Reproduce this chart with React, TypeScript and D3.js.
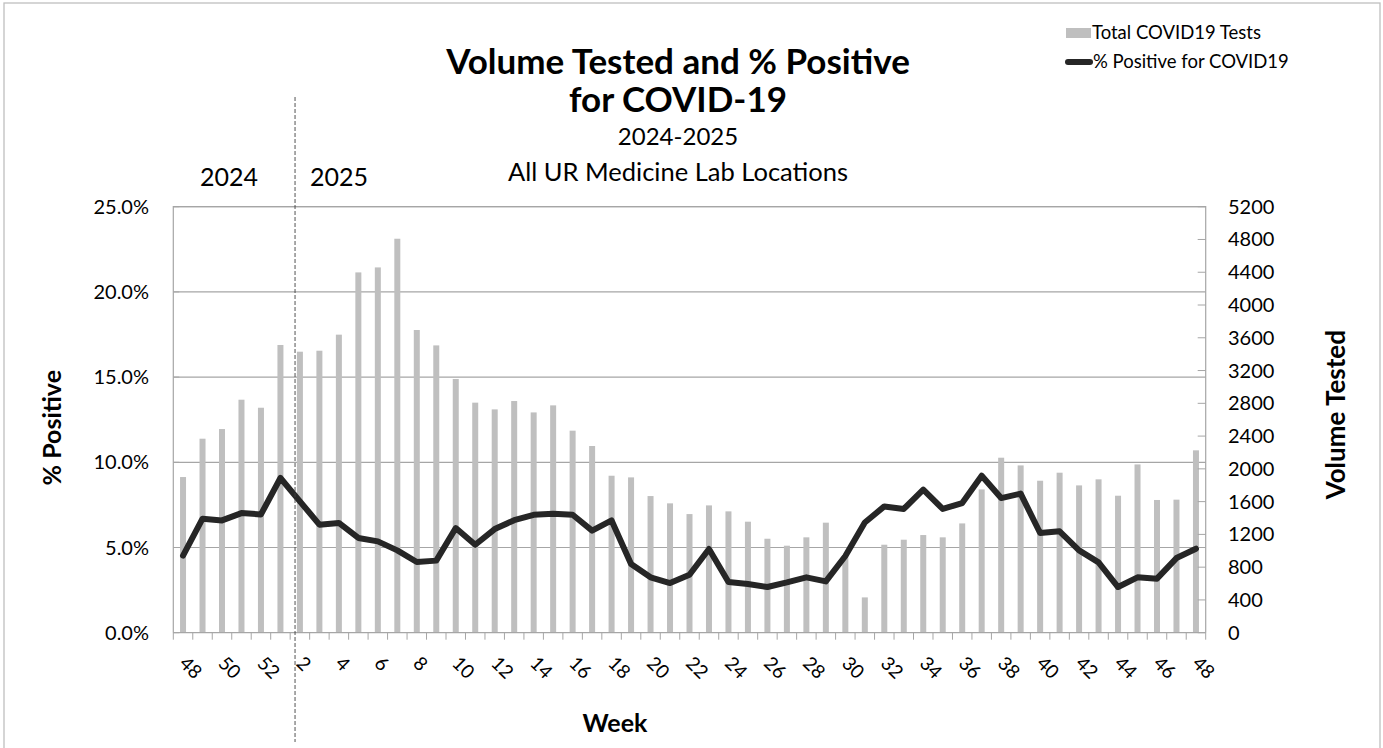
import React, { useEffect, useRef } from "react";
import * as d3 from "d3";

const weeks = [
  "48", "49", "50", "51", "52", "1", "2", "3", "4", "5", "6", "7", "8", "9", "10",
  "11", "12", "13", "14", "15", "16", "17", "18", "19", "20", "21", "22", "23",
  "24", "25", "26", "27", "28", "29", "30", "31", "32", "33", "34", "35", "36",
  "37", "38", "39", "40", "41", "42", "43", "44", "45", "46", "47", "48",
];

const totalTests = [
  1900, 2368, 2486, 2844, 2746, 3512, 3430, 3442, 3638, 4398, 4459, 4809, 3695,
  3507, 3097, 2808, 2726, 2828, 2689, 2775, 2466, 2279, 1916, 1896, 1668, 1579,
  1448, 1554, 1481, 1355, 1147, 1062, 1164, 1343, 931, 431, 1074, 1135, 1192,
  1164, 1334, 1749, 2136, 2042, 1855, 1953, 1798, 1872, 1672, 2054, 1620, 1624,
  2226,
];

const pctPositive = [
  4.52, 6.69, 6.59, 7.02, 6.94, 9.08, 7.71, 6.34, 6.44, 5.56, 5.36, 4.83, 4.15,
  4.23, 6.14, 5.16, 6.08, 6.6, 6.92, 6.98, 6.92, 5.99, 6.59, 4.03, 3.25, 2.91,
  3.4, 4.91, 2.97, 2.86, 2.68, 2.95, 3.25, 3.01, 4.5, 6.47, 7.41, 7.26, 8.39,
  7.26, 7.61, 9.21, 7.9, 8.16, 5.85, 5.95, 4.83, 4.13, 2.68, 3.25, 3.17, 4.38,
  4.93,
];

const pctTicks = [0, 5, 10, 15, 20, 25];
const volTicks = d3.range(0, 5201, 400);

const W = 1383,
  H = 748;
const margin = { top: 206.7, right: 177.3, bottom: 115.3, left: 173.3 };
const font = "Lato, 'Open Sans', sans-serif";

const barColor = "#bfbfbf";
const lineColor = "#262626";
const gridColor = "#a6a6a6";

export default function App(): JSX.Element {
  const ref = useRef<SVGSVGElement>(null);

  useEffect(() => {
    document.body.style.margin = "0";
    if (!ref.current) return;
    const svg = d3.select(ref.current);
    svg.selectAll("*").remove();

    const x0 = margin.left,
      x1 = W - margin.right,
      y0 = H - margin.bottom,
      y1 = margin.top;

    const idx = weeks.map((_, i) => i);
    const x = d3.scaleBand<number>().domain(idx).range([x0, x1]);
    const yPct = d3.scaleLinear().domain([0, 25]).range([y0, y1]);
    const yVol = d3.scaleLinear().domain([0, 5200]).range([y0, y1]);
    const cx = (i: number) => (x(i) as number) + x.bandwidth() / 2;

    // outer chart border
    svg
      .append("rect")
      .attr("x", 4)
      .attr("y", 3)
      .attr("width", 1376)
      .attr("height", H + 10)
      .attr("fill", "#fff")
      .attr("stroke", "#bfbfbf")
      .attr("stroke-width", 1.3);

    // gridlines
    svg
      .append("g")
      .selectAll("line")
      .data(pctTicks.filter((d) => d > 0))
      .join("line")
      .attr("x1", x0)
      .attr("x2", x1)
      .attr("y1", (d) => yPct(d))
      .attr("y2", (d) => yPct(d))
      .attr("stroke", gridColor)
      .attr("stroke-width", 1.2);

    // bars
    const bw = 6;
    svg
      .append("g")
      .selectAll("rect")
      .data(totalTests)
      .join("rect")
      .attr("x", (_, i) => cx(i) - bw / 2)
      .attr("y", (d) => yVol(d))
      .attr("width", bw)
      .attr("height", (d) => y0 - yVol(d))
      .attr("fill", barColor);

    // plot frame
    svg
      .append("path")
      .attr("d", `M${x0},${y0}V${y1}H${x1}V${y0}`)
      .attr("fill", "none")
      .attr("stroke", gridColor)
      .attr("stroke-width", 1.2);

    // left axis
    const gl = svg.append("g").attr("font-family", font);
    pctTicks.forEach((t) => {
      gl.append("line")
        .attr("x1", x0)
        .attr("x2", x0 + 6)
        .attr("y1", yPct(t))
        .attr("y2", yPct(t))
        .attr("stroke", gridColor);
      gl.append("text")
        .attr("x", 149)
        .attr("y", yPct(t))
        .attr("dy", "0.35em")
        .attr("text-anchor", "end")
        .attr("font-size", 20)
        .attr("fill", "#000")
        .text(d3.format(".1f")(t) + "%");
    });

    // right axis
    const gr = svg.append("g").attr("font-family", font);
    volTicks.forEach((t) => {
      gr.append("line")
        .attr("x1", x1 - 8)
        .attr("x2", x1)
        .attr("y1", yVol(t))
        .attr("y2", yVol(t))
        .attr("stroke", gridColor);
      gr.append("text")
        .attr("x", 1228)
        .attr("y", yVol(t))
        .attr("dy", "0.35em")
        .attr("text-anchor", "start")
        .attr("font-size", 20)
        .attr("fill", "#000")
        .text(String(t));
    });

    // bottom axis
    const gb = svg.append("g").attr("font-family", font);
    gb.append("line")
      .attr("x1", x0)
      .attr("x2", x1)
      .attr("y1", y0)
      .attr("y2", y0)
      .attr("stroke", gridColor)
      .attr("stroke-width", 1.2);
    d3.range(weeks.length + 1).forEach((i) => {
      const xx = x0 + i * x.step();
      gb.append("line")
        .attr("x1", xx)
        .attr("x2", xx)
        .attr("y1", y0)
        .attr("y2", y0 + 7)
        .attr("stroke", gridColor);
    });
    weeks.forEach((w, i) => {
      if (i % 2 !== 0) return;
      gb.append("text")
        .attr("transform", `translate(${cx(i)},${y0 + 27}) rotate(45)`)
        .attr("font-size", 19)
        .attr("fill", "#000")
        .attr("dy", "0.35em")
        .text(w);
    });

    // line
    const line = d3
      .line<number>()
      .x((_, i) => cx(i))
      .y((d) => yPct(d));
    svg
      .append("path")
      .datum(pctPositive)
      .attr("d", line)
      .attr("fill", "none")
      .attr("stroke", lineColor)
      .attr("stroke-width", 6)
      .attr("stroke-linejoin", "round")
      .attr("stroke-linecap", "round");

    // year divider
    const divX = (x(6) as number) + x.step() * 0.25;
    svg
      .append("line")
      .attr("x1", divX)
      .attr("x2", divX)
      .attr("y1", 97)
      .attr("y2", 742)
      .attr("stroke", "#404040")
      .attr("stroke-width", 0.9)
      .attr("stroke-dasharray", "4,2");

    const txt = svg.append("g").attr("font-family", font).attr("fill", "#000");
    txt.append("text").attr("x", 229).attr("y", 177).attr("dy", "0.35em")
      .attr("text-anchor", "middle").attr("font-size", 25).text("2024");
    txt.append("text").attr("x", 339).attr("y", 177).attr("dy", "0.35em")
      .attr("text-anchor", "middle").attr("font-size", 25).text("2025");

    // titles
    txt.append("text").attr("x", 678).attr("y", 62).attr("dy", "0.35em")
      .attr("text-anchor", "middle").attr("font-size", 35).attr("font-weight", "bold")
      .text("Volume Tested and % Positive");
    txt.append("text").attr("x", 678).attr("y", 100).attr("dy", "0.35em")
      .attr("text-anchor", "middle").attr("font-size", 35).attr("font-weight", "bold")
      .text("for COVID-19");
    txt.append("text").attr("x", 678).attr("y", 137).attr("dy", "0.35em")
      .attr("text-anchor", "middle").attr("font-size", 24).text("2024-2025");
    txt.append("text").attr("x", 678).attr("y", 172).attr("dy", "0.35em")
      .attr("text-anchor", "middle").attr("font-size", 25.5).text("All UR Medicine Lab Locations");

    // axis titles
    txt.append("text")
      .attr("transform", `translate(52,${(y0 + y1) / 2 + 8}) rotate(-90)`)
      .attr("dy", "0.35em").attr("text-anchor", "middle")
      .attr("font-size", 25).attr("font-weight", "bold").text("% Positive");
    txt.append("text")
      .attr("transform", `translate(1336,${(y0 + y1) / 2 - 5}) rotate(-90)`)
      .attr("dy", "0.35em").attr("text-anchor", "middle")
      .attr("font-size", 26).attr("font-weight", "bold").text("Volume Tested");
    txt.append("text").attr("x", 615).attr("y", 723).attr("dy", "0.35em")
      .attr("text-anchor", "middle").attr("font-size", 25).attr("font-weight", "bold")
      .text("Week");

    // legend
    const lg = svg.append("g").attr("font-family", font).attr("font-size", 18.5);
    lg.append("rect").attr("x", 1066).attr("y", 28).attr("width", 25).attr("height", 10)
      .attr("fill", barColor);
    lg.append("text").attr("x", 1092).attr("y", 33).attr("dy", "0.35em").text("Total COVID19 Tests");
    lg.append("line").attr("x1", 1068).attr("x2", 1090).attr("y1", 62).attr("y2", 62)
      .attr("stroke", lineColor).attr("stroke-width", 6).attr("stroke-linecap", "round");
    lg.append("text").attr("x", 1093).attr("y", 62).attr("dy", "0.35em").text("% Positive for COVID19");
  }, []);

  return <svg ref={ref} width={W} height={H} style={{ display: "block" }} />;
}
